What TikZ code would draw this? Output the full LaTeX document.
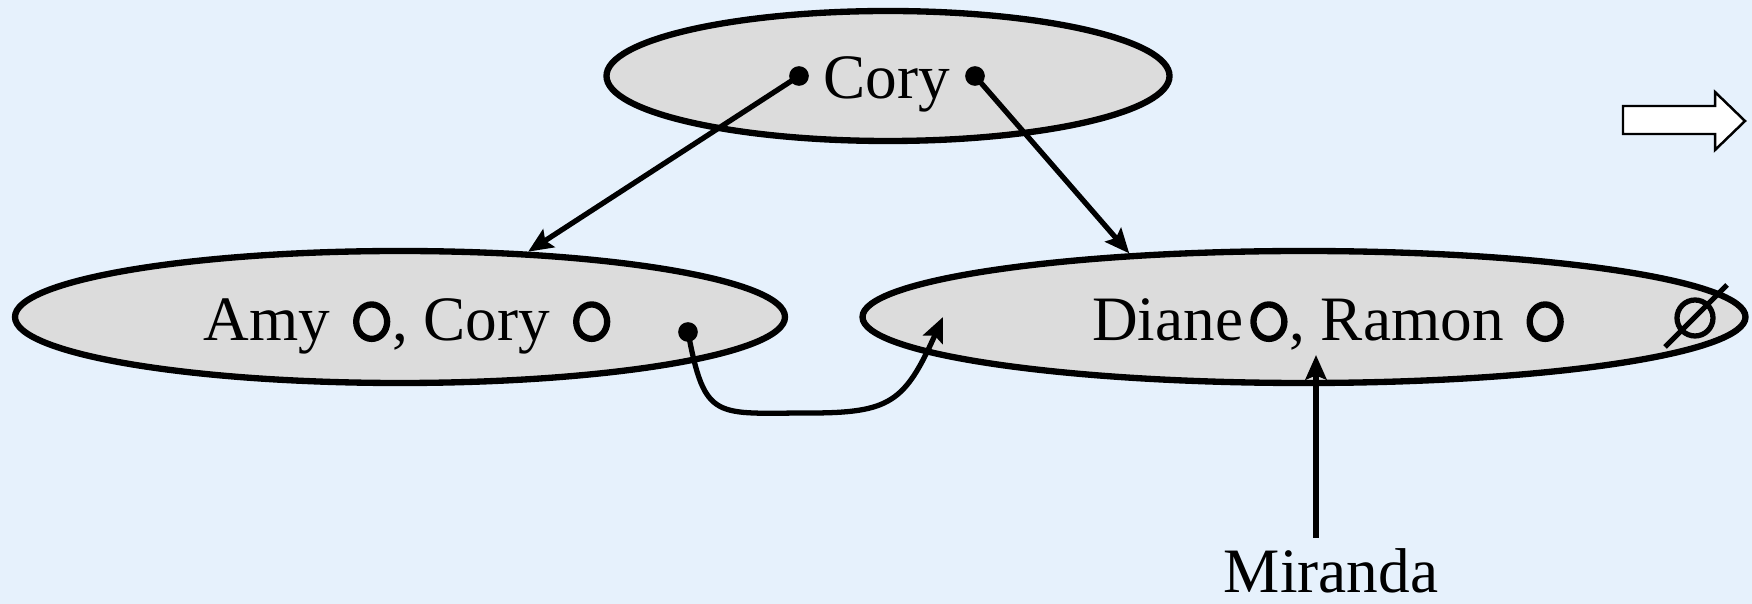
\documentclass[tikz,border=0pt]{standalone}
\usepackage{fontspec}
\setmainfont{Liberation Serif}
\usetikzlibrary{arrows.meta,shapes.geometric}

\definecolor{bgblue}{HTML}{E6F1FC}
\definecolor{setgray}{HTML}{DCDCDC}
\newcommand{\opendot}{\hspace{2pt}\tikz[baseline=-5.5pt]\draw[line width=1.8pt] (0pt,0pt) ellipse (4.4pt and 4.9pt);\hspace{0.5pt}}

\begin{document}
\begin{tikzpicture}[x=1cm, y=-1cm,
    font=\fontsize{18}{20}\selectfont,
    setbox/.style={ellipse, draw, line width=1.8pt, fill=setgray, inner sep=0pt},
    lbl/.style={inner sep=0pt, anchor=base},
    link/.style={line width=1.5pt, -{Stealth[length=7pt, width=6pt, inset=1.2pt]}}]

      \fill[bgblue] (0,0) rectangle (17.52,6.04);
      \useasboundingbox (0,0) rectangle (17.52,6.04);

      % Sets
      \node[setbox, minimum width=5.63cm, minimum height=1.30cm] (c) at (8.88, 0.76) {};
      \node[setbox, minimum width=7.70cm, minimum height=1.32cm] (a) at (4.00, 3.17) {};
      \node[setbox, minimum width=8.83cm, minimum height=1.32cm] (d) at (13.04, 3.17) {};

      \node[lbl] (ct) at (8.87, 0.99) {Cory};
      \node[lbl] (at) at (4.07, 3.41) {Amy \opendot, Cory \opendot};
      \node[lbl] (dt) at (13.28, 3.41) {Diane\opendot, Ramon \opendot};
      \node[lbl] (m)  at (13.31, 5.93) {Miranda};

      % Pointers
      \coordinate (c1) at (7.99, 0.76);
      \coordinate (c2) at (9.75, 0.76);
      \coordinate (a1) at (6.88, 3.32);
      \coordinate (d1) at (9.43, 3.17);
      \coordinate (d2) at (13.16, 3.55);

      \fill (c1) circle (2.8pt);
      \fill (c2) circle (2.8pt);
      \fill (a1) circle (2.8pt);

      \draw[link] (c1) -- (a.27);
      \draw[link] (c2) -- (d.160);
      \draw[link] (a1) .. controls (7.05, 4.22) and (7.15, 4.13) .. (8.10, 4.13)
        .. controls (8.90, 4.13) and (9.05, 4.02) .. (d1);
      \draw[link, shorten <=3pt] (d2 |- m.north) -- (d2);

      % null slot
      \draw[line width=1.5pt] (16.95, 3.18) circle (0.18cm);
      \draw[line width=1.5pt] (16.65, 3.47) -- (17.27, 2.85);

      % next step
      \draw[line width=0.7pt, fill=white] (16.23, 1.06) -- (17.15, 1.06) -- (17.15, 0.92)
        -- (17.45, 1.21) -- (17.15, 1.50) -- (17.15, 1.34) -- (16.23, 1.34) -- cycle;
    \end{tikzpicture}
\end{document}
